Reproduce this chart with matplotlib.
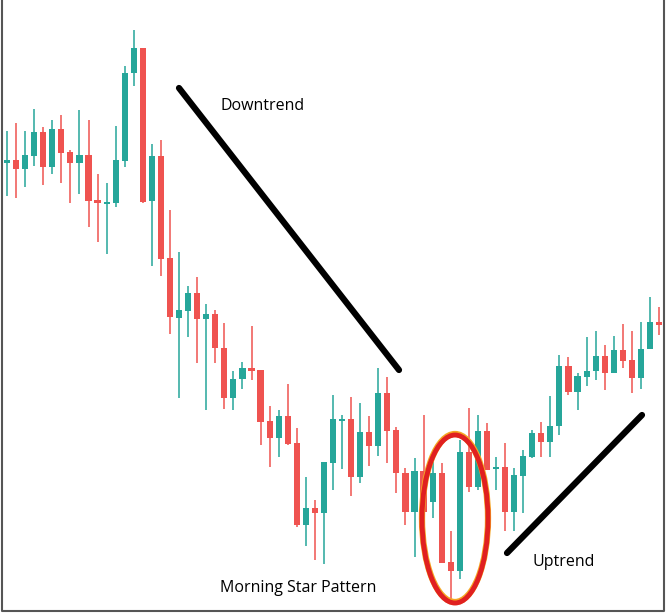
import matplotlib
matplotlib.use("Agg")
import matplotlib.pyplot as plt
from matplotlib.patches import Ellipse

# candles read on a screen-down price scale; 'u' = bullish (teal), 'd' = bearish (red)
dirs = ["u","d","u","u","d","u","d","d","u","d",
        "d","u","u","u","u","d","u","d","d","u",
        "u","d","u","d","d","u","u","d","d","d",
        "u","d","d","u","d","u","u","u","d","u",
        "d","u","d","d","d","u","d","u","d","d",
        "u","d","u","d","u","d","u","u","u","d",
        "u","u","d","u","u","u","d","u","d","d",
        "u","u","d"]
body_top = [160,160,155,132,132,129,129,152,155,155,200,202,160,73,48,48,156,156,258,310,293,293,314,314,348,379,368,368,370,421,416,416,443,508,508,462,419,419,419,432,432,393,393,430,473,471,471,473,473,562,452,452,431,431,467,467,475,456,433,433,426,366,366,376,371,356,356,350,350,360,349,322,322]
body_bot = [163,169,169,156,167,167,153,163,163,201,203,203,203,161,73,202,201,259,317,318,311,319,319,348,398,398,379,371,422,438,438,444,525,525,513,513,463,420,477,477,446,446,431,473,512,512,512,502,563,571,571,487,487,470,469,512,512,476,457,442,442,426,392,392,377,371,373,373,361,378,378,349,325]
wick_top = [131,123,131,109,127,120,115,150,110,120,174,183,126,66,30,48,144,140,210,252,286,277,304,310,323,371,362,326,370,406,410,384,428,477,500,462,395,415,397,403,416,368,377,427,468,458,415,462,463,531,440,408,415,423,457,443,468,450,430,422,396,355,357,373,337,331,345,336,324,331,322,297,307]
wick_bot = [196,198,187,166,185,174,183,203,194,227,242,254,207,167,86,203,266,276,334,398,337,363,410,363,409,410,389,380,445,467,457,445,527,546,560,564,490,469,496,483,466,456,463,493,525,557,512,518,563,602,579,492,490,470,490,531,531,513,458,457,457,435,395,410,386,380,390,373,368,393,389,349,335]

teal = "#26a69a"
red = "#ef5350"

fig = plt.figure(figsize=(6.66, 6.14), dpi=100)
ax = fig.add_axes([0, 0, 1, 1])
ax.set_xlim(-7 / 9.056, (666 - 7) / 9.056)
ax.set_ylim(614, 0)
ax.axis("off")

for i, d in enumerate(dirs):
    c = teal if d == "u" else red
    ax.vlines(i, wick_top[i], wick_bot[i], color=c, lw=1.1, zorder=2)
    h = max(body_bot[i] - body_top[i], 1.5)
    ax.bar(i, h, bottom=body_top[i], width=0.68, color=c, zorder=3)

ov = fig.add_axes([0, 0, 1, 1], facecolor="none")
ov.set_xlim(0, 666)
ov.set_ylim(614, 0)
ov.axis("off")
ov.plot([179, 399], [88, 370], color="black", lw=4.5, solid_capstyle="round")
ov.plot([507, 642], [553, 415], color="black", lw=4.5, solid_capstyle="round")
ov.add_patch(Ellipse((455, 518), 66, 168, fill=False, ec="#f5a623", lw=4.5, zorder=4))
ov.add_patch(Ellipse((455, 519), 66, 168, fill=False, ec="#e02020", lw=3.5, zorder=5))
ov.text(221, 106, "Downtrend", fontsize=11.5, family="Open Sans", va="center", ha="left")
ov.text(533, 562, "Uptrend", fontsize=11.5, family="Open Sans", va="center", ha="left")
ov.text(220, 588, "Morning Star Pattern", fontsize=11.5, family="Open Sans", va="center", ha="left")
ov.plot([2, 2, 664, 664], [0, 611, 611, 0], color="#555555", lw=1.5)

fig.savefig("out.png", dpi=100)
